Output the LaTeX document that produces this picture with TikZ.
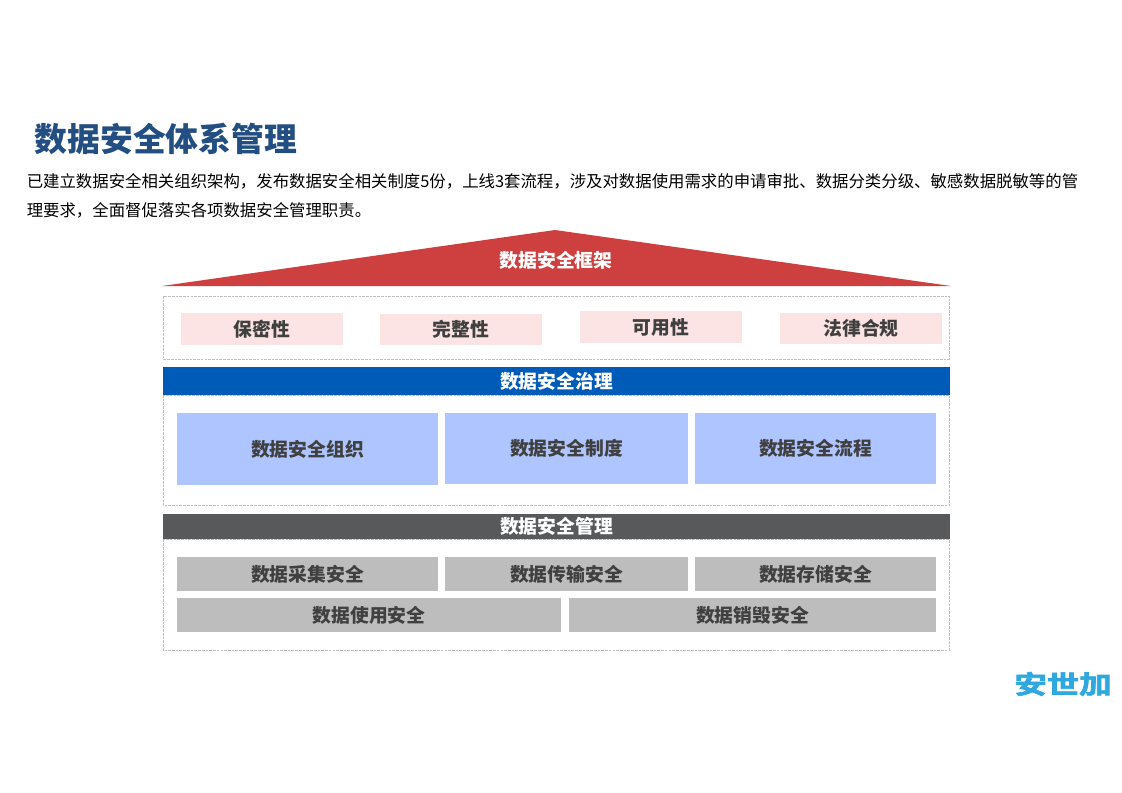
\documentclass[tikz,border=0pt]{standalone}
\usepackage{fontspec}
\setmainfont{Noto Sans CJK SC}
\newfontfamily\logofont[FakeBold=2.5]{Noto Sans CJK SC Bold}
\usepackage{tikz}
\usetikzlibrary{positioning}
\newcommand{\wcomma}{\char"FF0C\relax}
\definecolor{titleblue}{HTML}{234E82}
\definecolor{roofred}{HTML}{CE4040}
\definecolor{barblue}{HTML}{005BB8}
\definecolor{bargray}{HTML}{58595B}
\definecolor{pinkbox}{HTML}{FDE4E4}
\definecolor{bluebox}{HTML}{AEC5FF}
\definecolor{graybox}{HTML}{BDBDBD}
\definecolor{labelgray}{HTML}{404040}
\definecolor{logoblue}{HTML}{2FA8DF}

\begin{document}
\begin{tikzpicture}[x=0.75pt,y=-0.75pt,
frame/.style={draw=black!25,dash pattern=on 2pt off 0.8pt,line width=0.6pt,inner sep=0pt},
bar/.style={inner sep=0pt,minimum width=787*0.75pt,text=white,font=\fontsize{14.1}{14}\bfseries},
tile/.style={inner sep=0pt,text=labelgray,font=\fontsize{14.1}{14}\bfseries},
pink/.style={tile,fill=pinkbox,minimum width=162*0.75pt,minimum height=31.5*0.75pt},
blue/.style={tile,fill=bluebox,minimum height=71.5*0.75pt},
gray/.style={tile,fill=graybox,minimum height=34*0.75pt},
body/.style={anchor=west,inner sep=0pt,text=black,font=\fontsize{12.3}{12}\selectfont}]
\useasboundingbox (0,0) rectangle (1122,793);

\node[anchor=west,inner sep=0pt,text=titleblue,font=\fontsize{24.6}{24.6}\bfseries] at (34.5,139) (title) {数据安全体系管理};
\node[body] at (26.5,181) (line1) {已建立数据安全相关组织架构\wcomma 发布数据安全相关制度5份\wcomma 上线3套流程\wcomma 涉及对数据使用需求的申请审批、数据分类分级、敏感数据脱敏等的管};
\node[body] at (26.5,210) (line2) {理要求\wcomma 全面督促落实各项数据安全管理职责。};

\fill[roofred] (162,286) -- (555,230) -- (951,286) -- cycle;
\node[inner sep=0pt,text=white,font=\fontsize{14.1}{14}\bfseries] at (556,260.5) (roof) {数据安全框架};

\draw[frame] (163,296) rectangle (949.5,359);
\node[pink] at (262,329) (secret) {\raisebox{-0.5pt}{保密性}};
\node[pink] at (461,329.5) (whole) {\raisebox{-0.5pt}{完整性}};
\node[pink] at (661,327) (usable) {\raisebox{-0.5pt}{可用性}};
\node[pink] at (861,328.5) (legal) {\raisebox{-0.5pt}{法律合规}};

\draw[frame] (163,395) rectangle (949.5,505.5);
\node[bar,fill=barblue,minimum height=28*0.75pt] at (556.5,381) (govern) {\raisebox{-0.5pt}{数据安全治理}};
\node[blue,minimum width=261*0.75pt] at (307.5,449) (org) {\raisebox{-0.5pt}{数据安全组织}};
\node[blue,minimum width=243*0.75pt] at (566.5,448.5) (rule) {\raisebox{-0.5pt}{数据安全制度}};
\node[blue,minimum width=241*0.75pt] at (815.5,448.5) (flow) {\raisebox{-0.5pt}{数据安全流程}};

\draw[frame] (163,539.5) rectangle (949.5,650);
\node[bar,fill=bargray,minimum height=25*0.75pt] at (556.5,526.5) (manage) {数据安全管理};
\node[gray,minimum width=261*0.75pt] at (307.5,574) (collect) {数据采集安全};
\node[gray,minimum width=243*0.75pt] at (566.5,574) (transfer) {数据传输安全};
\node[gray,minimum width=241*0.75pt] at (815.5,574) (store) {数据存储安全};
\node[gray,minimum width=384*0.75pt] at (369,615) (use) {数据使用安全};
\node[gray,minimum width=367*0.75pt] at (752.5,615) (destroy) {数据销毁安全};

\node[inner sep=0pt,text=logoblue,font=\fontsize{19}{19}\logofont,xscale=1.28] at (1063,684) (logo) {安世加};
\end{tikzpicture}
\end{document}
